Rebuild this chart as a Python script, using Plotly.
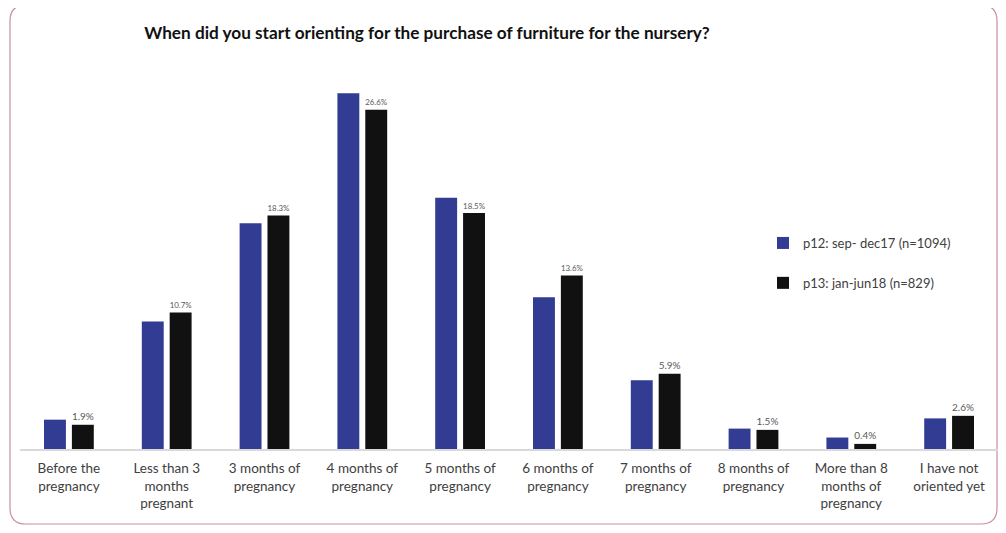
import plotly.graph_objects as go

categories = [
    "Before the<br>pregnancy",
    "Less than 3<br>months<br>pregnant",
    "3 months of<br>pregnancy",
    "4 months of<br>pregnancy",
    "5 months of<br>pregnancy",
    "6 months of<br>pregnancy",
    "7 months of<br>pregnancy",
    "8 months of<br>pregnancy",
    "More than 8<br>months of<br>pregnancy",
    "I have not<br>oriented yet",
]
p12_values = [2.3, 10.0, 17.7, 27.9, 19.7, 11.9, 5.4, 1.6, 0.9, 2.4]
p13_values = [1.9, 10.7, 18.3, 26.6, 18.5, 13.6, 5.9, 1.5, 0.4, 2.6]
p12_name = "p12: sep- dec17 (n=1094)"
p13_name = "p13: jan-jun18 (n=829)"
title_text = "When did you start orienting for the purchase of furniture for the nursery?"

# page has an 8px body margin, so the figure is offset by 8px; keep it inside the window
OFF = 8
W, H = 1006 - 2 * OFF, 533 - 2 * OFF
ML, MT = 20 - OFF, 60 - OFF
MB = H - (449 - OFF)
MR = 0

fig = go.Figure()
fig.add_trace(go.Bar(
    x=categories, y=p12_values, name=p12_name,
    marker=dict(color="#323C92", line=dict(width=0)),
    legendgroup="a",
))
fig.add_trace(go.Bar(
    x=categories, y=p13_values, name=p13_name,
    marker=dict(color="#111111", line=dict(width=0)),
    text=[f"{v}%" for v in p13_values], textposition="outside",
    textfont=dict(family="Lato", size=10.5, color="#595959"),
    cliponaxis=False, legendgroup="b",
))

# rounded frame in paper coordinates, computed from reference pixel positions
pw, ph = W - ML - MR, H - MT - MB
def px(x): return (x - OFF - ML) / pw
def py(y): return (H - MB - (y - OFF)) / ph
x0, x1, y0, y1, r = 10, 997, 5, 524, 16
path = (f"M {px(x0+r)},{py(y0)} L {px(x1-r)},{py(y0)} Q {px(x1)},{py(y0)} {px(x1)},{py(y0+r)} "
        f"L {px(x1)},{py(y1-r)} Q {px(x1)},{py(y1)} {px(x1-r)},{py(y1)} "
        f"L {px(x0+r)},{py(y1)} Q {px(x0)},{py(y1)} {px(x0)},{py(y1-r)} "
        f"L {px(x0)},{py(y0+r)} Q {px(x0)},{py(y0)} {px(x0+r)},{py(y0)} Z")

fig.update_layout(
    width=W, height=H,
    margin=dict(l=ML, r=MR, t=MT, b=MB),
    paper_bgcolor="white", plot_bgcolor="white",
    barmode="group", bargap=0.43, bargroupgap=0.214,
    title=dict(text=title_text, x=(427 - OFF) / W, xanchor="center", y=1 - (33 - OFF) / H, yanchor="middle",
               font=dict(family="Lato", size=17.2, color="#111111", weight="bold")),
    xaxis=dict(showline=True, linecolor="#D9D9D9", linewidth=1.5, ticks="",
               ticklabelstandoff=6,
               tickfont=dict(family="Lato", size=13.5, color="#404040"), showgrid=False),
    yaxis=dict(visible=False, range=[0, 30.5]),
    legend=dict(x=px(763), y=py(228), xanchor="left", yanchor="top",
                font=dict(family="Lato", size=13, color="#404040"),
                tracegroupgap=20, bgcolor="rgba(0,0,0,0)"),
    shapes=[dict(type="path", xref="paper", yref="paper", path=path,
                 line=dict(color="#C98F9E", width=1.2), fillcolor="rgba(0,0,0,0)", layer="below")],
)

fig.write_html("out.html")
